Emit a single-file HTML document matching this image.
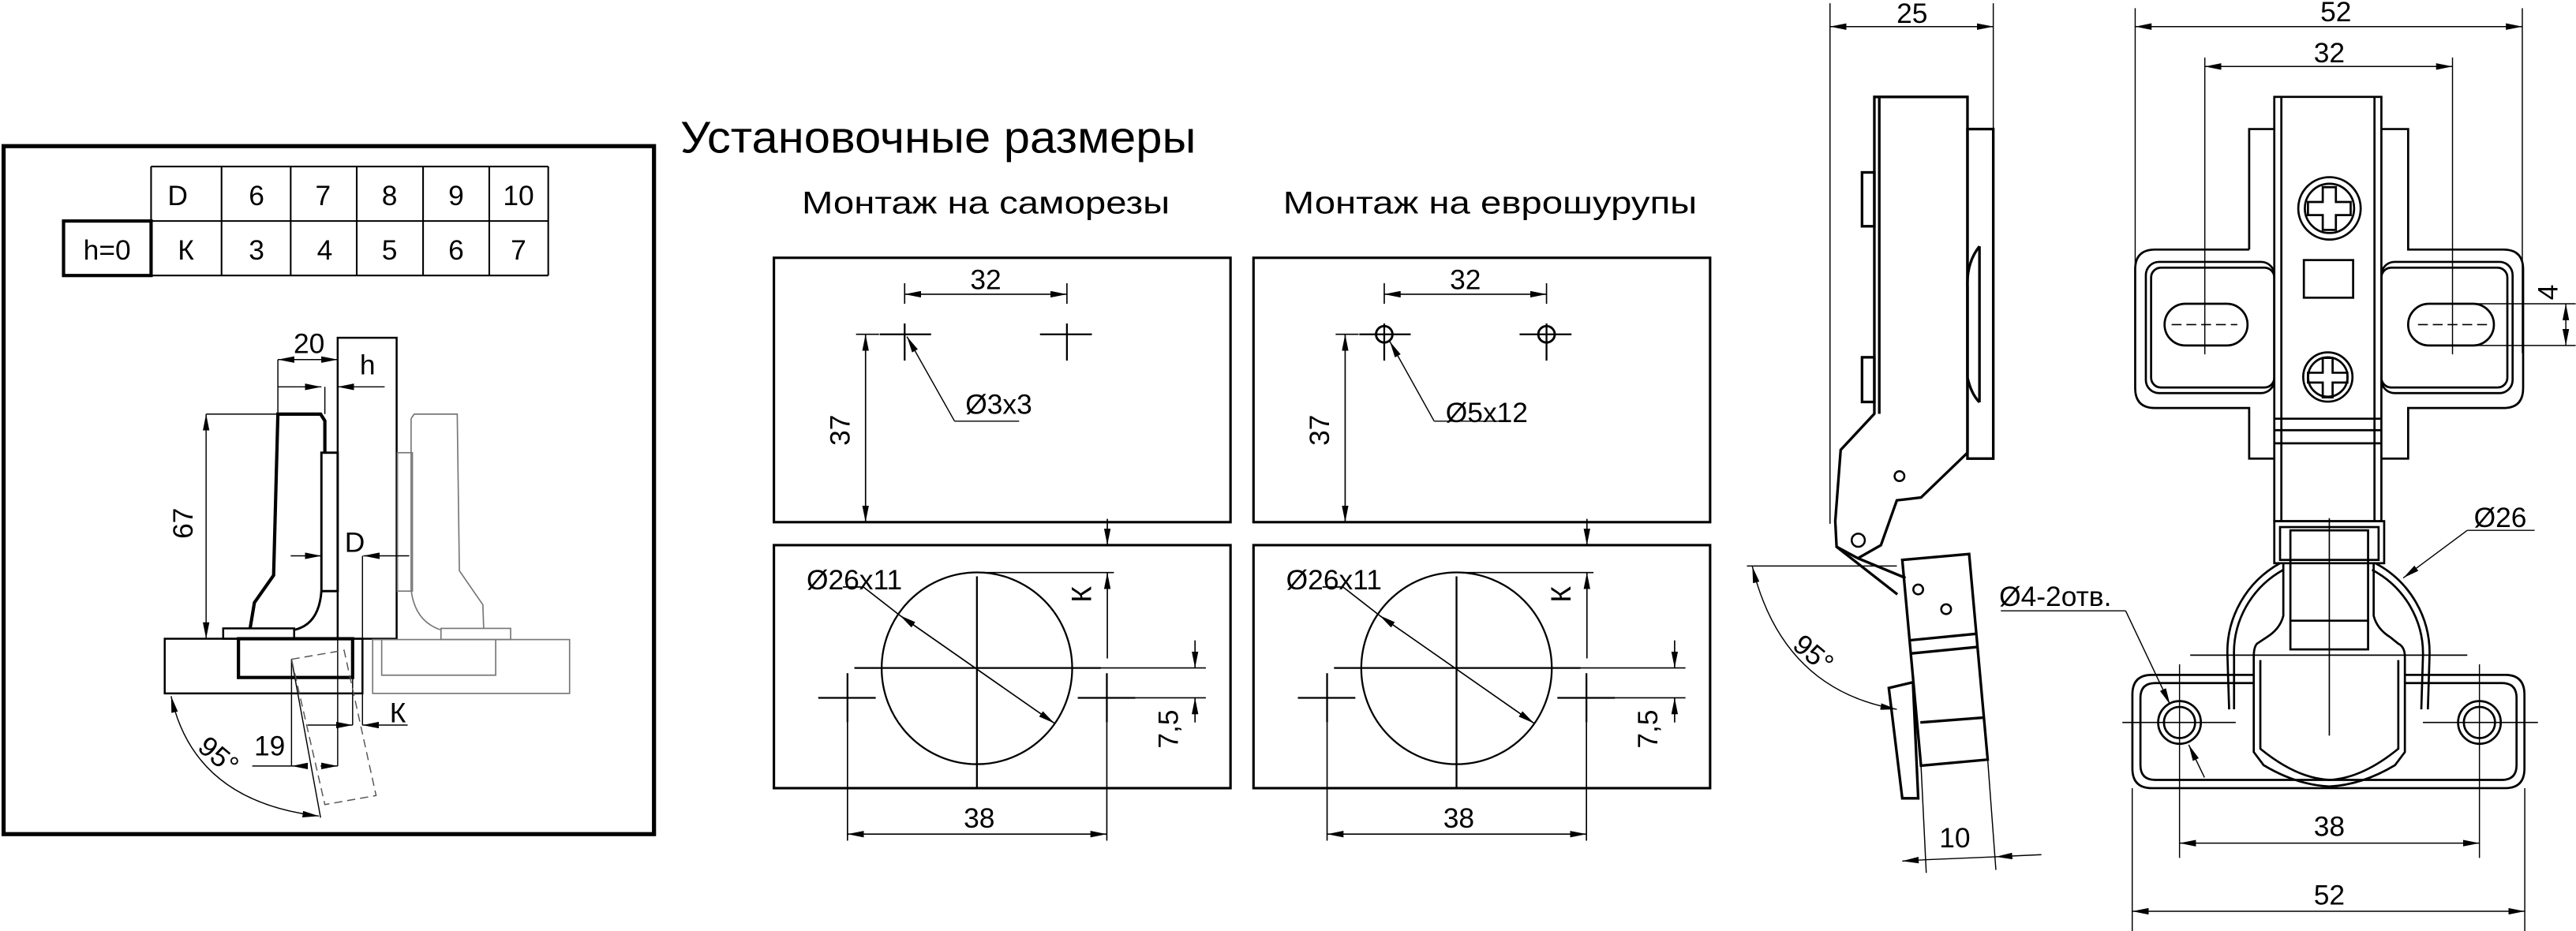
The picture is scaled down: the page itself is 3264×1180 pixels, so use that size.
<!DOCTYPE html>
<html><head><meta charset="utf-8"><style>
html,body{margin:0;padding:0;background:#fff}
svg{display:block}
text{font-family:"Liberation Sans",sans-serif;fill:#000}
</style></head><body>
<svg width="3264" height="1180" viewBox="0 0 1568 567" xmlns="http://www.w3.org/2000/svg">
<defs>
<marker id="a" viewBox="0 0 10 4" refX="10" refY="2" markerWidth="10" markerHeight="4" orient="auto-start-reverse" markerUnits="userSpaceOnUse"><path d="M0,0L10,2L0,4z" fill="#000"/></marker>
</defs>
<rect width="1568" height="567" fill="#fff"/>

<!-- ============ LEFT PANEL ============ -->
<g fill="none" stroke="#000">
<rect x="2" y="89" width="396" height="419" stroke-width="2.5"/>
<g stroke-width="1">
<line x1="91.8" y1="101.4" x2="333.6" y2="101.4"/>
<line x1="91.8" y1="134.6" x2="333.6" y2="134.6"/>
<line x1="91.8" y1="167.8" x2="333.6" y2="167.8"/>
<line x1="91.8" y1="101.4" x2="91.8" y2="167.8"/>
<line x1="134.7" y1="101.4" x2="134.7" y2="167.8"/>
<line x1="176.8" y1="101.4" x2="176.8" y2="167.8"/>
<line x1="217" y1="101.4" x2="217" y2="167.8"/>
<line x1="257.4" y1="101.4" x2="257.4" y2="167.8"/>
<line x1="297.7" y1="101.4" x2="297.7" y2="167.8"/>
<line x1="333.6" y1="101.4" x2="333.6" y2="167.8"/>
</g>
<rect x="38.5" y="134.6" width="53.3" height="33.2" stroke-width="2"/>
</g>
<g font-size="17" text-anchor="middle">
<text x="108" y="125">D</text><text x="156" y="125">6</text><text x="196.5" y="125">7</text><text x="237" y="125">8</text><text x="277.5" y="125">9</text><text x="315.5" y="125">10</text>
<text x="65" y="158">h=0</text><text x="113" y="158">К</text><text x="156" y="158">3</text><text x="197.5" y="158">4</text><text x="237" y="158">5</text><text x="277.5" y="158">6</text><text x="315.5" y="158">7</text>
</g>
<g fill="none" stroke="#000">
<rect x="205.4" y="205.7" width="35.9" height="183.3" stroke-width="1.2"/>
<path d="M152.1,382.7 L154.7,367 L166.4,350.4 L169,252.2 L195,252.2 L197.6,256.3 L197.6,275.7" stroke-width="2"/>
<rect x="195.5" y="275.7" width="9.9" height="84.3" stroke-width="1.4"/>
<path d="M195.5,360 Q194,380 179.4,383.5" stroke-width="1.4"/>
<rect x="135.7" y="382.7" width="43.2" height="6.3" stroke-width="1.2"/>
<rect x="100.1" y="389" width="120.4" height="33.3" stroke-width="1.2"/>
<rect x="145" y="389" width="69.5" height="23.6" stroke-width="2"/>
<g stroke="#777" stroke-width="0.8">
<rect x="226.7" y="389.5" width="119.9" height="32.8"/>
<polyline points="232.2,389.5 232.2,411.2 301.6,411.2 301.6,389.5"/>
<rect x="268.3" y="382.7" width="42.4" height="6.8"/>
<rect x="241.8" y="275.7" width="9.1" height="84.3"/>
<path d="M250.1,254.9 L252,252.2 L278.2,252.2 L279.5,347.6 L293.8,368.3 L294.3,382.7"/>
<path d="M250.1,254.9 L250.1,358.6 Q252,378 267.8,383.5"/>
</g>
<g stroke-width="0.7">
<line x1="169" y1="219" x2="169" y2="252.2"/>
<line x1="169" y1="219" x2="205.4" y2="219" marker-start="url(#a)" marker-end="url(#a)"/>
<line x1="169" y1="235.6" x2="195.5" y2="235.6" marker-end="url(#a)"/>
<line x1="197.6" y1="235.6" x2="197.6" y2="252.2"/>
<line x1="234" y1="235.6" x2="205.4" y2="235.6" marker-end="url(#a)"/>
<line x1="125.3" y1="252.2" x2="169" y2="252.2"/>
<line x1="125.3" y1="252.2" x2="125.3" y2="389" marker-start="url(#a)" marker-end="url(#a)"/>
<line x1="176.8" y1="338.5" x2="195.5" y2="338.5" marker-end="url(#a)"/>
<line x1="249" y1="338.5" x2="221" y2="338.5" marker-end="url(#a)"/>
<line x1="220.5" y1="338.5" x2="220.5" y2="441.6"/>
<line x1="248" y1="441.6" x2="220.5" y2="441.6" marker-end="url(#a)"/>
<line x1="187" y1="441.6" x2="214.5" y2="441.6" marker-end="url(#a)"/>
<line x1="214.5" y1="412.6" x2="214.5" y2="441.6"/>
<line x1="205.4" y1="389" x2="205.4" y2="466.5"/>
<line x1="177.3" y1="401.5" x2="177.3" y2="466.5"/>
<line x1="153.4" y1="466.5" x2="177.3" y2="466.5"/>
<line x1="187" y1="466.5" x2="177.3" y2="466.5" marker-end="url(#a)"/>
<line x1="195" y1="466.5" x2="205.4" y2="466.5" marker-end="url(#a)"/>
<line x1="177.3" y1="401.5" x2="195" y2="498"/>
<polygon points="177.3,401.5 209.3,396 228.8,484.5 197.6,490" stroke-dasharray="5,3" stroke="#555"/>
<path d="M104,424 Q118,488 194,497" marker-start="url(#a)" marker-end="url(#a)"/>
</g>
</g>
<g font-size="17" text-anchor="middle">
<text x="188" y="215">20</text>
<text x="223.6" y="228">h</text>
<text x="117" y="318.7" transform="rotate(-90 117 318.7)">67</text>
<text x="215.8" y="336">D</text>
<text x="242" y="440">К</text>
<text x="164" y="460">19</text>
<text x="133" y="466" transform="rotate(40 133 460)">95°</text>
</g>

<!-- ============ MIDDLE ============ -->
<text x="414" y="93" font-size="27" textLength="314" lengthAdjust="spacingAndGlyphs">Установочные размеры</text>
<text x="488" y="130" font-size="19" textLength="224" lengthAdjust="spacingAndGlyphs">Монтаж на саморезы</text>
<text x="781" y="130" font-size="19" textLength="252" lengthAdjust="spacingAndGlyphs">Монтаж на еврошурупы</text>

<g id="mcol">
<g fill="none" stroke="#000">
<rect x="471" y="157" width="278" height="161" stroke-width="1.5"/>
<rect x="471" y="332" width="278" height="148" stroke-width="1.5"/>
<g stroke-width="0.8">
<line x1="550.6" y1="172.5" x2="550.6" y2="185"/>
<line x1="649.4" y1="172.5" x2="649.4" y2="185"/>
<line x1="550.6" y1="179.2" x2="649.4" y2="179.2" marker-start="url(#a)" marker-end="url(#a)"/>
<line x1="521" y1="203.6" x2="535" y2="203.6"/>
<line x1="526.8" y1="203.6" x2="526.8" y2="318" marker-start="url(#a)" marker-end="url(#a)"/>
<line x1="674" y1="316" x2="674" y2="332" marker-end="url(#a)"/>
<line x1="594" y1="348.7" x2="678" y2="348.7"/>
<line x1="674" y1="401" x2="674" y2="348.7" marker-end="url(#a)"/>
<line x1="669" y1="406.8" x2="734" y2="406.8"/>
<line x1="669" y1="425" x2="734" y2="425"/>
<line x1="727.4" y1="390" x2="727.4" y2="406.8" marker-end="url(#a)"/>
<line x1="727.4" y1="440" x2="727.4" y2="425" marker-end="url(#a)"/>
<line x1="513" y1="357.5" x2="525.5" y2="357.5"/>
<line x1="525.5" y1="357.5" x2="547.7" y2="374.8"/>
<line x1="547.7" y1="374.8" x2="641.8" y2="440.5" marker-start="url(#a)" marker-end="url(#a)"/>
<line x1="515.8" y1="440" x2="515.8" y2="512"/>
<line x1="673.7" y1="440" x2="673.7" y2="512"/>
<line x1="515.8" y1="508" x2="673.7" y2="508" marker-start="url(#a)" marker-end="url(#a)"/>
</g>
<g stroke-width="1.1">
<line x1="550.6" y1="197" x2="550.6" y2="219.6"/><line x1="535.4" y1="203.6" x2="566.7" y2="203.6"/>
<line x1="649.4" y1="197" x2="649.4" y2="219.6"/><line x1="633" y1="203.6" x2="664.6" y2="203.6"/>
<ellipse cx="594.6" cy="407" rx="58" ry="58.4"/>
<line x1="520" y1="406.8" x2="670" y2="406.8"/>
<line x1="594.6" y1="351" x2="594.6" y2="480"/>
<line x1="498" y1="425" x2="533" y2="425"/><line x1="515.8" y1="410" x2="515.8" y2="440"/>
<line x1="656" y1="425" x2="691" y2="425"/><line x1="673.7" y1="410" x2="673.7" y2="440"/>
</g>
</g>
<g font-size="17" text-anchor="middle">
<text x="600" y="176">32</text>
<text x="517" y="262" transform="rotate(-90 517 262)">37</text>
<text x="664" y="362" transform="rotate(-90 664 362)">К</text>
<text x="717" y="444" transform="rotate(-90 717 444)">7,5</text>
<text x="596" y="504">38</text>
<text x="520" y="359">Ø26x11</text>
</g>
</g>
<g fill="none" stroke="#000" stroke-width="0.7">
<line x1="581" y1="256.5" x2="552" y2="205" marker-end="url(#a)"/>
<line x1="581" y1="256.5" x2="620.3" y2="256.5"/>
</g>
<text x="587.6" y="252" font-size="17">Ø3x3</text>

<use href="#mcol" transform="translate(292 0)"/>
<g fill="none" stroke="#000">
<circle cx="842.6" cy="203.6" r="5" stroke-width="1.4"/>
<circle cx="941.4" cy="203.6" r="5" stroke-width="1.4"/>
<line x1="873" y1="256.5" x2="846" y2="208" marker-end="url(#a)" stroke-width="0.7"/>
<line x1="873" y1="256.5" x2="914" y2="256.5" stroke-width="0.7"/>
</g>
<text x="880" y="257" font-size="17">Ø5x12</text>

<!-- ============ SIDE VIEW ============ -->
<g fill="none" stroke="#000">
<g stroke-width="0.7">
<line x1="1114" y1="2" x2="1114" y2="319"/>
<line x1="1213.4" y1="2" x2="1213.4" y2="78"/>
<line x1="1114" y1="16.2" x2="1213.4" y2="16.2" marker-start="url(#a)" marker-end="url(#a)"/>
<line x1="1063.4" y1="344.7" x2="1154.7" y2="344.7"/>
<path d="M1066.7,345 Q1085,420 1154.7,432" marker-start="url(#a)" marker-end="url(#a)"/>
<line x1="1169.4" y1="466" x2="1172.6" y2="531.6"/>
<line x1="1210" y1="462.6" x2="1215" y2="529.8"/>
<line x1="1158" y1="524.4" x2="1172" y2="523.6" marker-start="url(#a)"/>
<line x1="1172" y1="523.6" x2="1215" y2="521.8"/>
<line x1="1215" y1="521.8" x2="1242.7" y2="520.5" marker-start="url(#a)"/>
</g>
<g stroke-width="1.6">
<path d="M1141,59 L1197.7,59 L1197.7,275.7 L1169.4,303 L1154.7,304.7 L1145,332 L1131,340 L1118,333 L1117.2,317.4 L1120.5,274 L1141,252 Z"/>
<line x1="1144" y1="59" x2="1144" y2="252"/>
<rect x="1197.7" y="78.6" width="15.7" height="200.7"/>
<rect x="1133.5" y="105" width="7.5" height="32.8"/>
<rect x="1133.5" y="217.6" width="7.5" height="27.2"/>
<path d="M1205,150 Q1197,160 1197.7,175 L1197.7,230 Q1200,240 1205,245"/>
<line x1="1205" y1="150" x2="1205" y2="245"/>
<polygon points="1158,341 1198.7,337.4 1210,462.6 1169.4,466.3"/>
<polygon points="1149.8,419 1164.5,415.5 1167.7,486.2 1158,486.2"/>
<line x1="1162" y1="390" x2="1203" y2="386"/>
<line x1="1163" y1="398" x2="1204" y2="394"/>
<line x1="1169" y1="440" x2="1208" y2="437"/>
<path d="M1118,333 L1155,362 M1131,340 L1160,352"/>
</g>
<circle cx="1131.2" cy="329" r="4" stroke-width="1.2"/>
<circle cx="1156.3" cy="290" r="3" stroke-width="1.2"/>
<circle cx="1167.7" cy="359" r="3" stroke-width="1.2"/>
<circle cx="1184.7" cy="371" r="3" stroke-width="1.2"/>
</g>
<g font-size="17" text-anchor="middle">
<text x="1164" y="14">25</text>
<text x="1104" y="404" transform="rotate(40 1104 398)">95°</text>
<text x="1190" y="516">10</text>
</g>

<!-- ============ FRONT VIEW ============ -->
<g fill="none" stroke="#000">
<g stroke-width="0.7">
<line x1="1299.8" y1="5" x2="1299.8" y2="215"/>
<line x1="1535.5" y1="5" x2="1535.5" y2="215"/>
<line x1="1299.8" y1="16.2" x2="1535.5" y2="16.2" marker-start="url(#a)" marker-end="url(#a)"/>
<line x1="1342.2" y1="35" x2="1342.2" y2="215.8"/>
<line x1="1493" y1="35" x2="1493" y2="215.8"/>
<line x1="1342.2" y1="40.5" x2="1493" y2="40.5" marker-start="url(#a)" marker-end="url(#a)"/>
<line x1="1493" y1="185" x2="1568" y2="185"/>
<line x1="1493" y1="210.4" x2="1568" y2="210.4"/>
<line x1="1562" y1="185" x2="1562" y2="210.4" marker-start="url(#a)" marker-end="url(#a)"/>
<line x1="1326.8" y1="404.6" x2="1326.8" y2="522.5"/>
<line x1="1509.4" y1="404.6" x2="1509.4" y2="522.5"/>
<line x1="1326.8" y1="513.5" x2="1509.4" y2="513.5" marker-start="url(#a)" marker-end="url(#a)"/>
<line x1="1298" y1="480" x2="1298" y2="567"/>
<line x1="1537" y1="480" x2="1537" y2="567"/>
<line x1="1298" y1="555" x2="1537" y2="555" marker-start="url(#a)" marker-end="url(#a)"/>
<line x1="1502" y1="323" x2="1543" y2="323"/>
<line x1="1502" y1="323" x2="1463" y2="352" marker-end="url(#a)"/>
<line x1="1218" y1="372" x2="1294" y2="372"/>
<line x1="1294" y1="372" x2="1321" y2="429" marker-end="url(#a)"/>
<line x1="1342" y1="473.5" x2="1332.4" y2="453.6" marker-end="url(#a)"/>
</g>
<g stroke-width="1.3">
<path d="M1369.2,152 L1369.2,78.6 L1384.5,78.6 M1449.7,78.6 L1466,78.6 L1466,152 L1524,152 Q1536,152 1536,164 L1536,236.5 Q1536,248.5 1524,248.5 L1466,248.5 L1466,279.3 L1449.7,279.3 M1384.5,279.3 L1369.2,279.3 L1369.2,248.5 L1312,248.5 Q1299.8,248.5 1299.8,236.5 L1299.8,164 Q1299.8,152 1312,152 L1369.2,152"/>
<rect x="1306.3" y="159.5" width="78.2" height="79.9" rx="8"/>
<rect x="1309.5" y="163" width="75" height="73" rx="6"/>
<rect x="1449.7" y="159.5" width="79.9" height="79.9" rx="8"/>
<rect x="1449.7" y="163" width="76.7" height="73" rx="6"/>
<rect x="1317.7" y="185" width="50.5" height="25.4" rx="12.7"/>
<rect x="1466" y="185" width="52.2" height="25.4" rx="12.7"/>
<rect x="1384.5" y="59" width="65.2" height="258.4" fill="#fff"/>
<line x1="1388.8" y1="59" x2="1388.8" y2="317.4"/>
<line x1="1445.5" y1="59" x2="1445.5" y2="317.4"/>
<line x1="1384.5" y1="255" x2="1449.7" y2="255"/>
<line x1="1384.5" y1="262" x2="1449.7" y2="262"/>
<line x1="1384.5" y1="270" x2="1449.7" y2="270"/>
<circle cx="1418.1" cy="126.9" r="19"/>
<circle cx="1418.1" cy="126.9" r="15"/>
<path d="M1414,114 h8 v9 h9 v8 h-9 v9 h-8 v-9 h-9 v-8 h9 z"/>
<rect x="1402.5" y="158.4" width="30" height="22.9"/>
<circle cx="1417.1" cy="229.6" r="15"/>
<circle cx="1417.1" cy="229.6" r="12"/>
<path d="M1414,218 h6 v9 h9 v6 h-9 v9 h-6 v-9 h-9 v-6 h9 z"/>
<rect x="1384.5" y="317.4" width="66.9" height="25.6"/>
<rect x="1388" y="321" width="60" height="20"/>
<path d="M1357,432 L1356,400 A62.7,62 0 0 1 1388,343 M1446,343 A62.7,62 0 0 1 1479,400 L1478,432"/>
<path d="M1360,432 L1360,400 A59,58 0 0 1 1390,347 M1444,347 A59,58 0 0 1 1475,400 L1474,432"/>
<rect x="1394.3" y="323" width="47.3" height="72.5"/>
<line x1="1394.3" y1="378" x2="1441.6" y2="378"/>
<path d="M1390,343 L1390,375 Q1388,383 1380,388 L1374,392 Q1372,394 1372,400 L1372,458 L1378,466 Q1398,478 1418,479 Q1438,478 1458,466 L1464,458 L1464,400 Q1464,394 1460,392 L1455,388 Q1447,383 1445,375 L1445,343"/>
<path d="M1376,402 L1376,456 Q1398,474 1418,475 Q1438,474 1460,456 L1460,402"/>
<path d="M1372,411 L1310,411 Q1298.1,411 1298.1,423 L1298.1,468 Q1298.1,480 1310,480 L1525,480 Q1536.8,480 1536.8,468 L1536.8,423 Q1536.8,411 1525,411 L1464,411"/>
<path d="M1372,416 L1312,416 Q1303,416 1303,425 L1303,466 Q1303,475 1312,475 L1523,475 Q1532,475 1532,466 L1532,425 Q1532,416 1523,416 L1464,416"/>
<circle cx="1326.8" cy="440" r="13"/>
<circle cx="1326.8" cy="440" r="9.5"/>
<circle cx="1509.4" cy="440" r="13"/>
<circle cx="1509.4" cy="440" r="9.5"/>
</g>
<g stroke-width="0.8">
<line x1="1322" y1="197.7" x2="1362" y2="197.7" stroke-dasharray="6,3"/>
<line x1="1472" y1="197.7" x2="1514" y2="197.7" stroke-dasharray="6,3"/>
<line x1="1292" y1="440" x2="1361" y2="440"/>
<line x1="1475" y1="440" x2="1545" y2="440"/>
<line x1="1418" y1="315.6" x2="1418" y2="448"/>
<line x1="1333.3" y1="399" x2="1502" y2="399"/>
</g>
</g>
<g font-size="17" text-anchor="middle">
<text x="1422" y="13">52</text>
<text x="1418" y="38">32</text>
<text x="1557" y="178" transform="rotate(-90 1557 178)">4</text>
<text x="1418" y="509">38</text>
<text x="1418" y="551">52</text>
</g>
<text x="1506" y="321" font-size="17">Ø26</text>
<text x="1217" y="369" font-size="17">Ø4-2отв.</text>
</svg>
</body></html>
